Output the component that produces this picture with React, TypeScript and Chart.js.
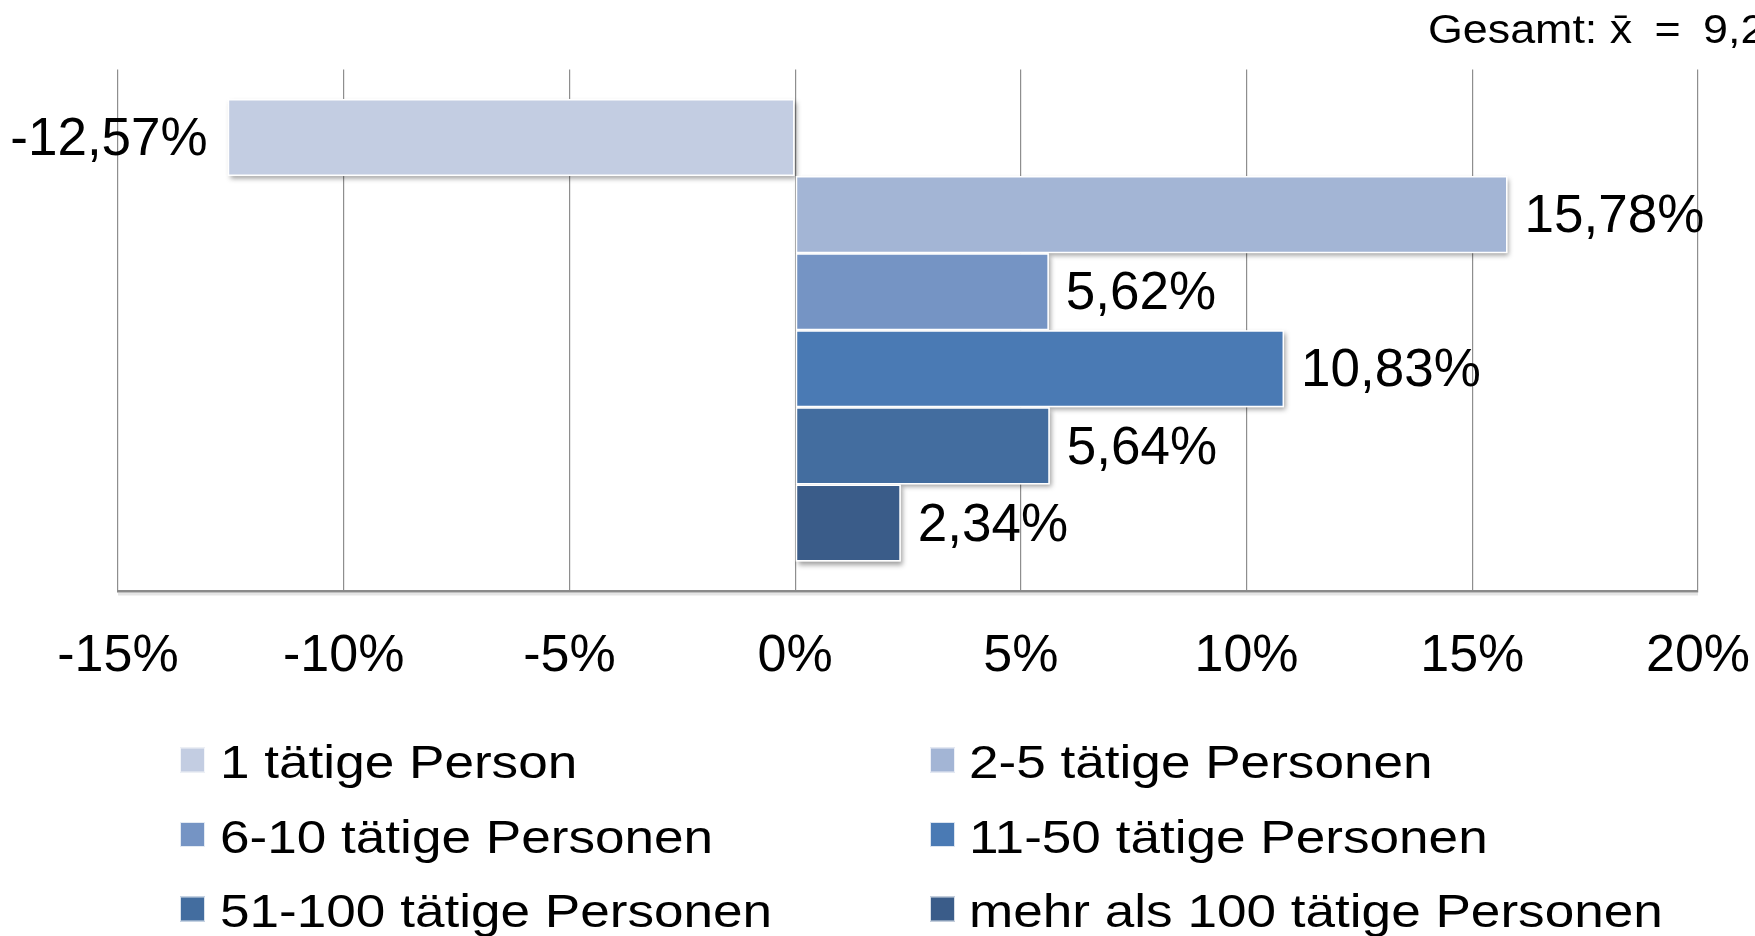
import React, { useEffect, useRef } from 'react';
import { Chart, registerables } from 'chart.js';

Chart.register(...registerables);

const categories = [''];
const seriesLabels = [
  '1 tätige Person',
  '2-5 tätige Personen',
  '6-10 tätige Personen',
  '11-50 tätige Personen',
  '51-100 tätige Personen',
  'mehr als 100 tätige Personen',
];
const seriesValues = [-12.57, 15.78, 5.62, 10.83, 5.64, 2.34];
const seriesColors = ['#C3CDE2', '#A3B5D5', '#7594C4', '#4A7AB4', '#436D9F', '#3A5C89'];
const tickValues = [-15, -10, -5, 0, 5, 10, 15, 20];
const tickLabels = ['-15%', '-10%', '-5%', '0%', '5%', '10%', '15%', '20%'];
const noteText = 'Gesamt: x\u0304\u2002=\u20029,2';

const FONT = '"Liberation Sans", Arial, Helvetica, sans-serif';

const fmt = (v: number) => v.toFixed(2).replace('.', ',') + '%';

const shadowPlugin = {
  id: 'barShadow',
  beforeDatasetsDraw(chart: any) {
    const ctx = chart.ctx;
    chart.data.datasets.forEach((_: any, i: number) => {
      const meta = chart.getDatasetMeta(i);
      meta.data.forEach((el: any) => {
        const { x, y, base, height } = el.getProps(['x', 'y', 'base', 'height'], true);
        const left = Math.min(x, base);
        const w = Math.abs(x - base);
        ctx.save();
        ctx.shadowColor = 'rgba(0,0,0,0.38)';
        ctx.shadowBlur = 5;
        ctx.shadowOffsetX = 2;
        ctx.shadowOffsetY = 3;
        ctx.fillStyle = '#ffffff';
        ctx.fillRect(left, y - height / 2, w, height);
        ctx.restore();
      });
    });
  },
  beforeDraw(chart: any) {
    // soft shadow under the bottom axis line
    const { ctx, chartArea } = chart;
    ctx.save();
    ctx.fillStyle = 'rgba(0,0,0,0.10)';
    ctx.fillRect(chartArea.left, chartArea.bottom + 1.5, chartArea.right - chartArea.left, 3);
    ctx.restore();
  },
};

const labelsPlugin = {
  id: 'valueLabels',
  afterDraw(chart: any) {
    const ctx = chart.ctx;
    ctx.save();
    ctx.fillStyle = '#000';
    ctx.font = `53px ${FONT}`;
    ctx.textBaseline = 'middle';
    chart.data.datasets.forEach((ds: any, i: number) => {
      const meta = chart.getDatasetMeta(i);
      meta.data.forEach((el: any, j: number) => {
        const v = ds.data[j];
        const { x, y } = el.getProps(['x', 'y'], true);
        if (v < 0) {
          ctx.textAlign = 'right';
          ctx.fillText(fmt(v), x - 20, y + 3);
        } else {
          ctx.textAlign = 'left';
          ctx.fillText(fmt(v), x + 17, y + 3);
        }
      });
    });
    ctx.restore();

    // legend (2 columns, row-major)
    const colBox = [180, 930];
    const colText = [220, 969];
    const rowBase = [778, 852.5, 927];
    ctx.save();
    ctx.font = `47px ${FONT}`;
    ctx.textBaseline = 'alphabetic';
    ctx.textAlign = 'left';
    chart.data.datasets.forEach((ds: any, i: number) => {
      const c = i % 2;
      const r = Math.floor(i / 2);
      const base = rowBase[r];
      ctx.fillStyle = ds.backgroundColor;
      ctx.fillRect(colBox[c], base - 30.5, 25, 25);
      ctx.strokeStyle = 'rgba(255,255,255,0.8)';
      ctx.lineWidth = 1;
      ctx.strokeRect(colBox[c] + 0.5, base - 30, 24, 24);
      ctx.save();
      ctx.translate(colText[c], base);
      ctx.scale(1.13, 1);
      ctx.fillStyle = '#000';
      ctx.fillText(ds.label, 0, 0);
      ctx.restore();
    });
    ctx.restore();

    // note at top right
    ctx.save();
    ctx.font = `40px ${FONT}`;
    ctx.fillStyle = '#000';
    ctx.textBaseline = 'alphabetic';
    ctx.textAlign = 'left';
    ctx.translate(1428, 42.5);
    ctx.scale(1.12, 1);
    ctx.fillText(noteText, 0, 0);
    ctx.restore();
  },
};

export default function App() {
  const ref = useRef<HTMLCanvasElement | null>(null);

  useEffect(() => {
    if (!ref.current) return;
    const chart = new Chart(ref.current, {
      type: 'bar',
      data: {
        labels: categories,
        datasets: seriesLabels.map((label, i) => ({
          label,
          data: [seriesValues[i]],
          backgroundColor: seriesColors[i],
          borderColor: '#ffffff',
          borderWidth: 1.5,
          borderSkipped: false,
          categoryPercentage: 0.887,
          barPercentage: 1,
        })),
      },
      options: {
        indexAxis: 'y',
        responsive: false,
        animation: false,
        devicePixelRatio: 1,
        layout: { padding: { left: 118, right: 57, top: 69.5, bottom: 214.6 } },
        plugins: {
          legend: { display: false },
          title: { display: false },
          tooltip: { enabled: false },
        },
        scales: {
          x: {
            type: 'linear',
            min: -15,
            max: 20,
            afterBuildTicks: (scale: any) => {
              scale.ticks = tickValues.map((v) => ({ value: v }));
            },
            afterFit: (scale: any) => {
              scale.paddingLeft = 0;
              scale.paddingRight = 0;
            },
            grid: {
              color: '#8e8e8e',
              lineWidth: 1.2,
              drawTicks: false,
            },
            border: { display: true, color: '#8a8a8a', width: 2.5 },
            ticks: {
              padding: 34,
              color: '#000',
              font: { family: FONT, size: 52 },
              maxRotation: 0,
              autoSkip: false,
              callback: (_v: any, i: number) => tickLabels[i],
            },
          },
          y: {
            display: false,
            grid: { display: false },
          },
        },
      },
      plugins: [shadowPlugin, labelsPlugin],
    } as any);
    return () => chart.destroy();
  }, []);

  return (
    <div style={{ position: 'fixed', left: 0, top: 0, width: 1755, height: 936, background: '#fff', overflow: 'hidden' }}>
      <canvas ref={ref} width={1755} height={936} style={{ display: 'block' }} />
    </div>
  );
}
